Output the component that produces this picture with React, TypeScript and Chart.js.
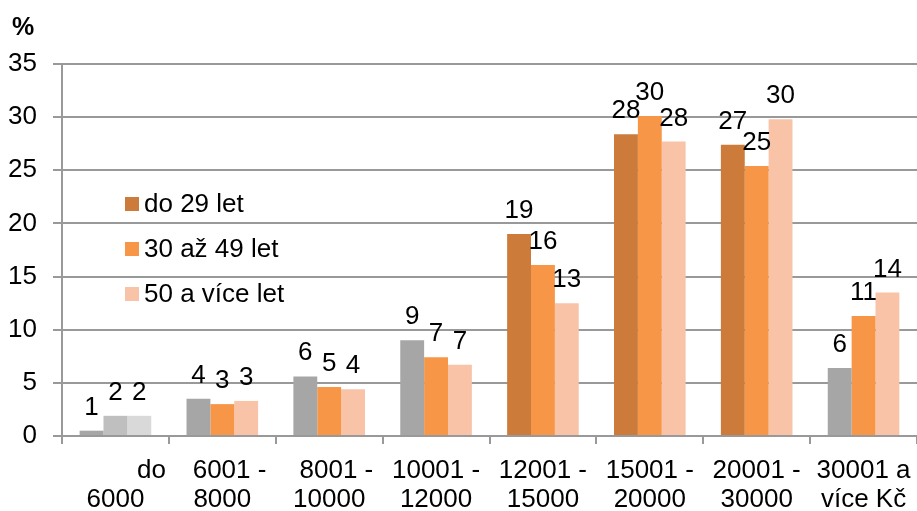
import { useEffect, useRef } from "react";
import { Chart, registerables } from "chart.js";

Chart.register(...registerables);

const categories: string[][] = [
  ["          do", "6000"],
  ["  6001 -", "8000"],
  ["  8001 -", "10000"],
  ["10001 -", "12000"],
  ["12001 -", "15000"],
  ["15001 -", "20000"],
  ["20001 -", "30000"],
  ["30001 a", "více Kč"],
];
const seriesNames = ["do 29 let", "30 až 49 let", "50 a více let"];
const under29 = [0.5, 3.5, 5.6, 9.0, 19.0, 28.4, 27.4, 6.4];
const age30to49 = [1.9, 3.0, 4.6, 7.4, 16.1, 30.1, 25.4, 11.3];
const over50 = [1.9, 3.3, 4.4, 6.7, 12.5, 27.7, 29.8, 13.5];
const yMax = 35;
const yStep = 5;
const yTitle = "%";

const FONT = "'Liberation Sans', Arial, sans-serif";
const FS = 26;
const BROWN = "#CD7B3A";
const ORANGE = "#F79646";
const LIGHT = "#F9C3A8";
const GREY = "#A6A6A6";
const GRID = "#999999";

const colors1 = [GREY, GREY, GREY, GREY, BROWN, BROWN, BROWN, GREY];
const colors2 = ["#BFBFBF", ORANGE, ORANGE, ORANGE, ORANGE, ORANGE, ORANGE, ORANGE];
const colors3 = ["#D9D9D9", LIGHT, LIGHT, LIGHT, LIGHT, LIGHT, LIGHT, LIGHT];
const legendColors = [BROWN, ORANGE, LIGHT];

const overlayPlugin = {
  id: "overlay",
  afterDatasetsDraw(chart: any) {
    const ctx = chart.ctx as CanvasRenderingContext2D;
    const area = chart.chartArea;
    ctx.save();
    ctx.font = `${FS}px ${FONT}`;
    ctx.fillStyle = "#000";
    ctx.textAlign = "center";
    ctx.textBaseline = "alphabetic";
    chart.data.datasets.forEach((ds: any, i: number) => {
      const meta = chart.getDatasetMeta(i);
      meta.data.forEach((bar: any, j: number) => {
        const v = ds.data[j] as number;
        ctx.fillText(String(Math.round(v)), bar.x, bar.y - 16);
      });
    });
    ctx.textAlign = "left";
    ctx.textBaseline = "middle";
    chart.data.datasets.forEach((ds: any, i: number) => {
      const cy = area.top + 140 + i * 45;
      const x = area.left + 63;
      ctx.fillStyle = legendColors[i];
      ctx.fillRect(x, cy - 7, 14, 14);
      ctx.fillStyle = "#000";
      ctx.fillText(ds.label, x + 19, cy + 1);
    });
    ctx.font = `bold ${FS - 1}px ${FONT}`;
    ctx.textBaseline = "alphabetic";
    ctx.fillText(yTitle, 12, 35);
    ctx.restore();
  },
};

export default function App() {
  const ref = useRef<HTMLCanvasElement | null>(null);
  useEffect(() => {
    if (!ref.current) return;
    const chart = new Chart(ref.current, {
      type: "bar",
      data: {
        labels: categories,
        datasets: [
          { label: seriesNames[0], data: under29, backgroundColor: colors1 },
          { label: seriesNames[1], data: age30to49, backgroundColor: colors2 },
          { label: seriesNames[2], data: over50, backgroundColor: colors3 },
        ],
      },
      options: {
        animation: false,
        responsive: true,
        maintainAspectRatio: false,
        layout: { padding: { top: 64, left: 0, right: 0, bottom: 0 } },
        datasets: { bar: { categoryPercentage: 0.67, barPercentage: 1 } },
        plugins: {
          legend: { display: false },
          tooltip: { enabled: false },
          title: { display: false },
        },
        scales: {
          x: {
            grid: {
              offset: true,
              drawOnChartArea: false,
              drawTicks: true,
              tickLength: 8,
              color: GRID,
              lineWidth: 2,
            },
            border: { display: true, color: GRID, width: 2 },
            ticks: {
              color: "#000",
              font: { family: FONT, size: FS, lineHeight: 1.1 },
              padding: 13,
              maxRotation: 0,
              minRotation: 0,
              autoSkip: false,
            },
            afterFit(scale: any) {
              scale.height = 75;
              scale.paddingLeft = 0;
              scale.paddingRight = 0;
            },
          },
          y: {
            min: 0,
            max: yMax,
            ticks: {
              stepSize: yStep,
              color: "#000",
              font: { family: FONT, size: FS },
              padding: 16,
            },
            grid: {
              color: GRID,
              lineWidth: 2,
              drawTicks: true,
              tickLength: 9,
            },
            border: { display: true, color: GRID, width: 2 },
            afterFit(scale: any) {
              scale.width = 62;
              scale.paddingTop = 0;
              scale.paddingBottom = 0;
            },
          },
        },
      },
      plugins: [overlayPlugin],
    });
    return () => chart.destroy();
  }, []);
  return (
    <div style={{ position: "absolute", left: 0, top: 0, width: 917, height: 511, background: "#fff" }}>
      <canvas ref={ref} />
    </div>
  );
}
